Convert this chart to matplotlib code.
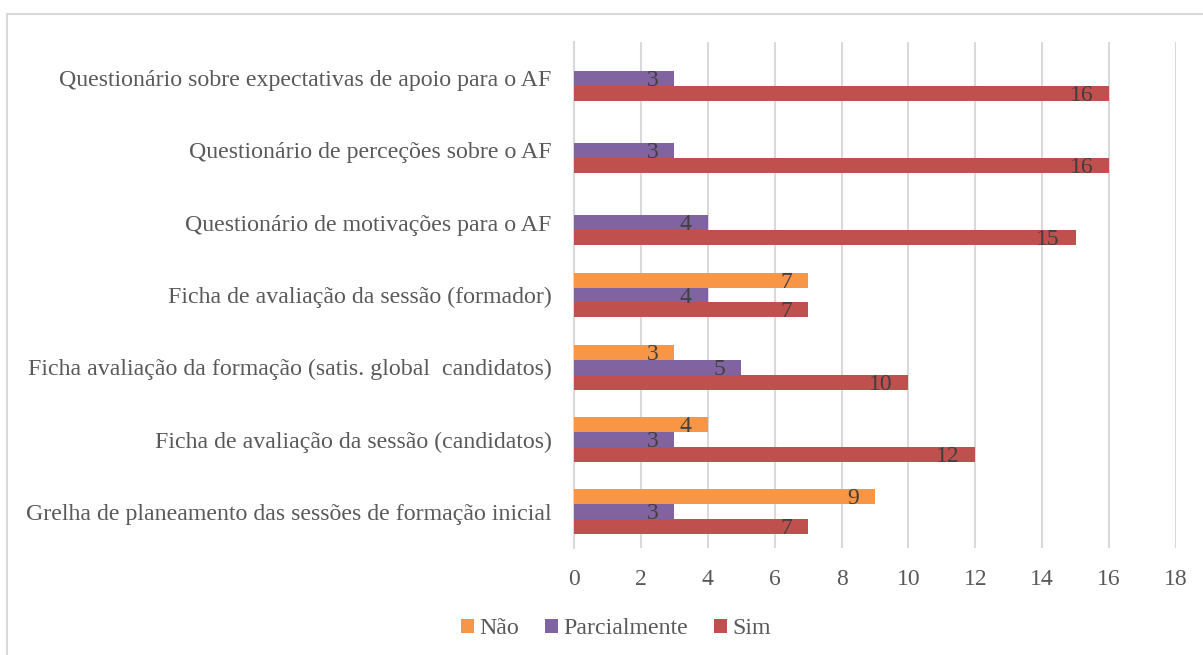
import matplotlib
matplotlib.use("Agg")
import matplotlib.pyplot as plt
from matplotlib.patches import Rectangle, Patch
import numpy as np

plt.rcParams['font.family'] = ['Liberation Serif', 'DejaVu Serif']

categories = [
    "Grelha de planeamento das sessões de formação inicial",
    "Ficha de avaliação da sessão (candidatos)",
    "Ficha avaliação da formação (satis. global  candidatos)",
    "Ficha de avaliação da sessão (formador)",
    "Questionário de motivações para o AF",
    "Questionário de perceções sobre o AF",
    "Questionário sobre expectativas de apoio para o AF",
]
nao = [9, 4, 3, 7, 0, 0, 0]
parcialmente = [3, 3, 5, 4, 4, 3, 3]
sim = [7, 12, 10, 7, 15, 16, 16]
series_names = ["Não", "Parcialmente", "Sim"]
colors = ["#F79646", "#8064A2", "#C0504D"]
xticks = [0, 2, 4, 6, 8, 10, 12, 14, 16, 18]

W, H = 1203, 655
fig = plt.figure(figsize=(W / 100, H / 100), dpi=100)
ax = fig.add_axes([574 / W, 1 - 548 / H, (1176 - 574) / W, (548 - 42) / H])

y = np.arange(len(categories))
bh = 0.207
offsets = [bh, 0, -bh]
for vals, off, col, name in zip([nao, parcialmente, sim], offsets, colors, series_names):
    ax.barh(y + off, vals, height=bh, color=col, label=name, zorder=3)
    for v, yy in zip(vals, y + off):
        if v > 0:
            ax.annotate(str(v), xy=(v, yy), xytext=(-16, -2), textcoords='offset pixels',
                        ha='right', va='center', fontsize=17, color='#404040', zorder=4)

ax.set_xlim(0, 18)
ax.set_ylim(-0.5, len(categories) - 0.5)
ax.set_xticks(xticks)
ax.set_xticklabels([str(t) for t in xticks])
ax.set_yticks(y)
ax.set_yticklabels(categories)
ax.tick_params(axis='both', length=0, colors='#595959')
ax.tick_params(axis='x', pad=15, labelsize=17)
ax.tick_params(axis='y', pad=16, labelsize=17.2)
ax.grid(axis='x', color='#D9D9D9', linewidth=1.5, zorder=0)
for s in ['top', 'right', 'bottom']:
    ax.spines[s].set_visible(False)
ax.spines['left'].set_color('#D9D9D9')
ax.spines['left'].set_linewidth(1.5)

handles = [Patch(facecolor=c, label=n) for c, n in zip(colors, series_names)]
fig.legend(handles=handles, loc='center', bbox_to_anchor=(0.512, 1 - 629 / H), ncol=3,
           frameon=False, fontsize=17.2, handlelength=0.55, handleheight=0.55,
           handletextpad=0.2, columnspacing=1.1, labelcolor='#595959')

fig.patches.append(Rectangle((7 / W, -0.1), 1.2, 1.1 - 14 / H, transform=fig.transFigure,
                             fill=False, edgecolor='#D9D9D9', linewidth=1.5))

fig.savefig("out.png", dpi=100)
